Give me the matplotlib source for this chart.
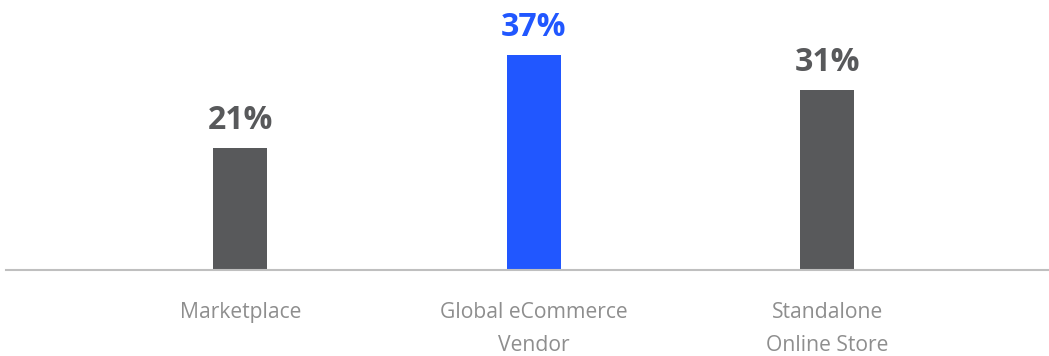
import matplotlib.pyplot as plt

categories = ["Marketplace", "Global eCommerce\nVendor", "Standalone\nOnline Store"]
shares = [21, 37, 31]
highlight = [False, True, False]

GRAY = "#58595B"
BLUE = "#2157FF"
LABEL_GRAY = "#8E8E8E"

plt.rcParams["font.family"] = ["Open Sans", "DejaVu Sans"]

fig = plt.figure(figsize=(10.49, 3.56), dpi=100)
ax = fig.add_axes([6 / 1049, 86 / 356, 1042 / 1049, 270 / 356])

x = list(range(len(categories)))
colors = [BLUE if h else GRAY for h in highlight]
ax.bar(x, shares, width=0.184, color=colors, zorder=2)

for xi, v, c in zip(x, shares, colors):
    ax.annotate(f"{v}%", (xi, v), xytext=(0, 8), textcoords="offset points",
                ha="center", va="bottom", fontsize=23, fontweight="bold", color=c)

ax.set_xlim(-0.799, 2.752)
ax.set_ylim(0, 46.5)

ax.set_xticks(x)
ax.set_xticklabels(categories, fontsize=15.2, color=LABEL_GRAY, linespacing=1.75)
ax.tick_params(axis="x", length=0, pad=23)
ax.set_yticks([])

for side in ("top", "left", "right"):
    ax.spines[side].set_visible(False)
ax.spines["bottom"].set_color("#BFBFBF")
ax.spines["bottom"].set_linewidth(1.5)

fig.savefig("out.png", dpi=100)
